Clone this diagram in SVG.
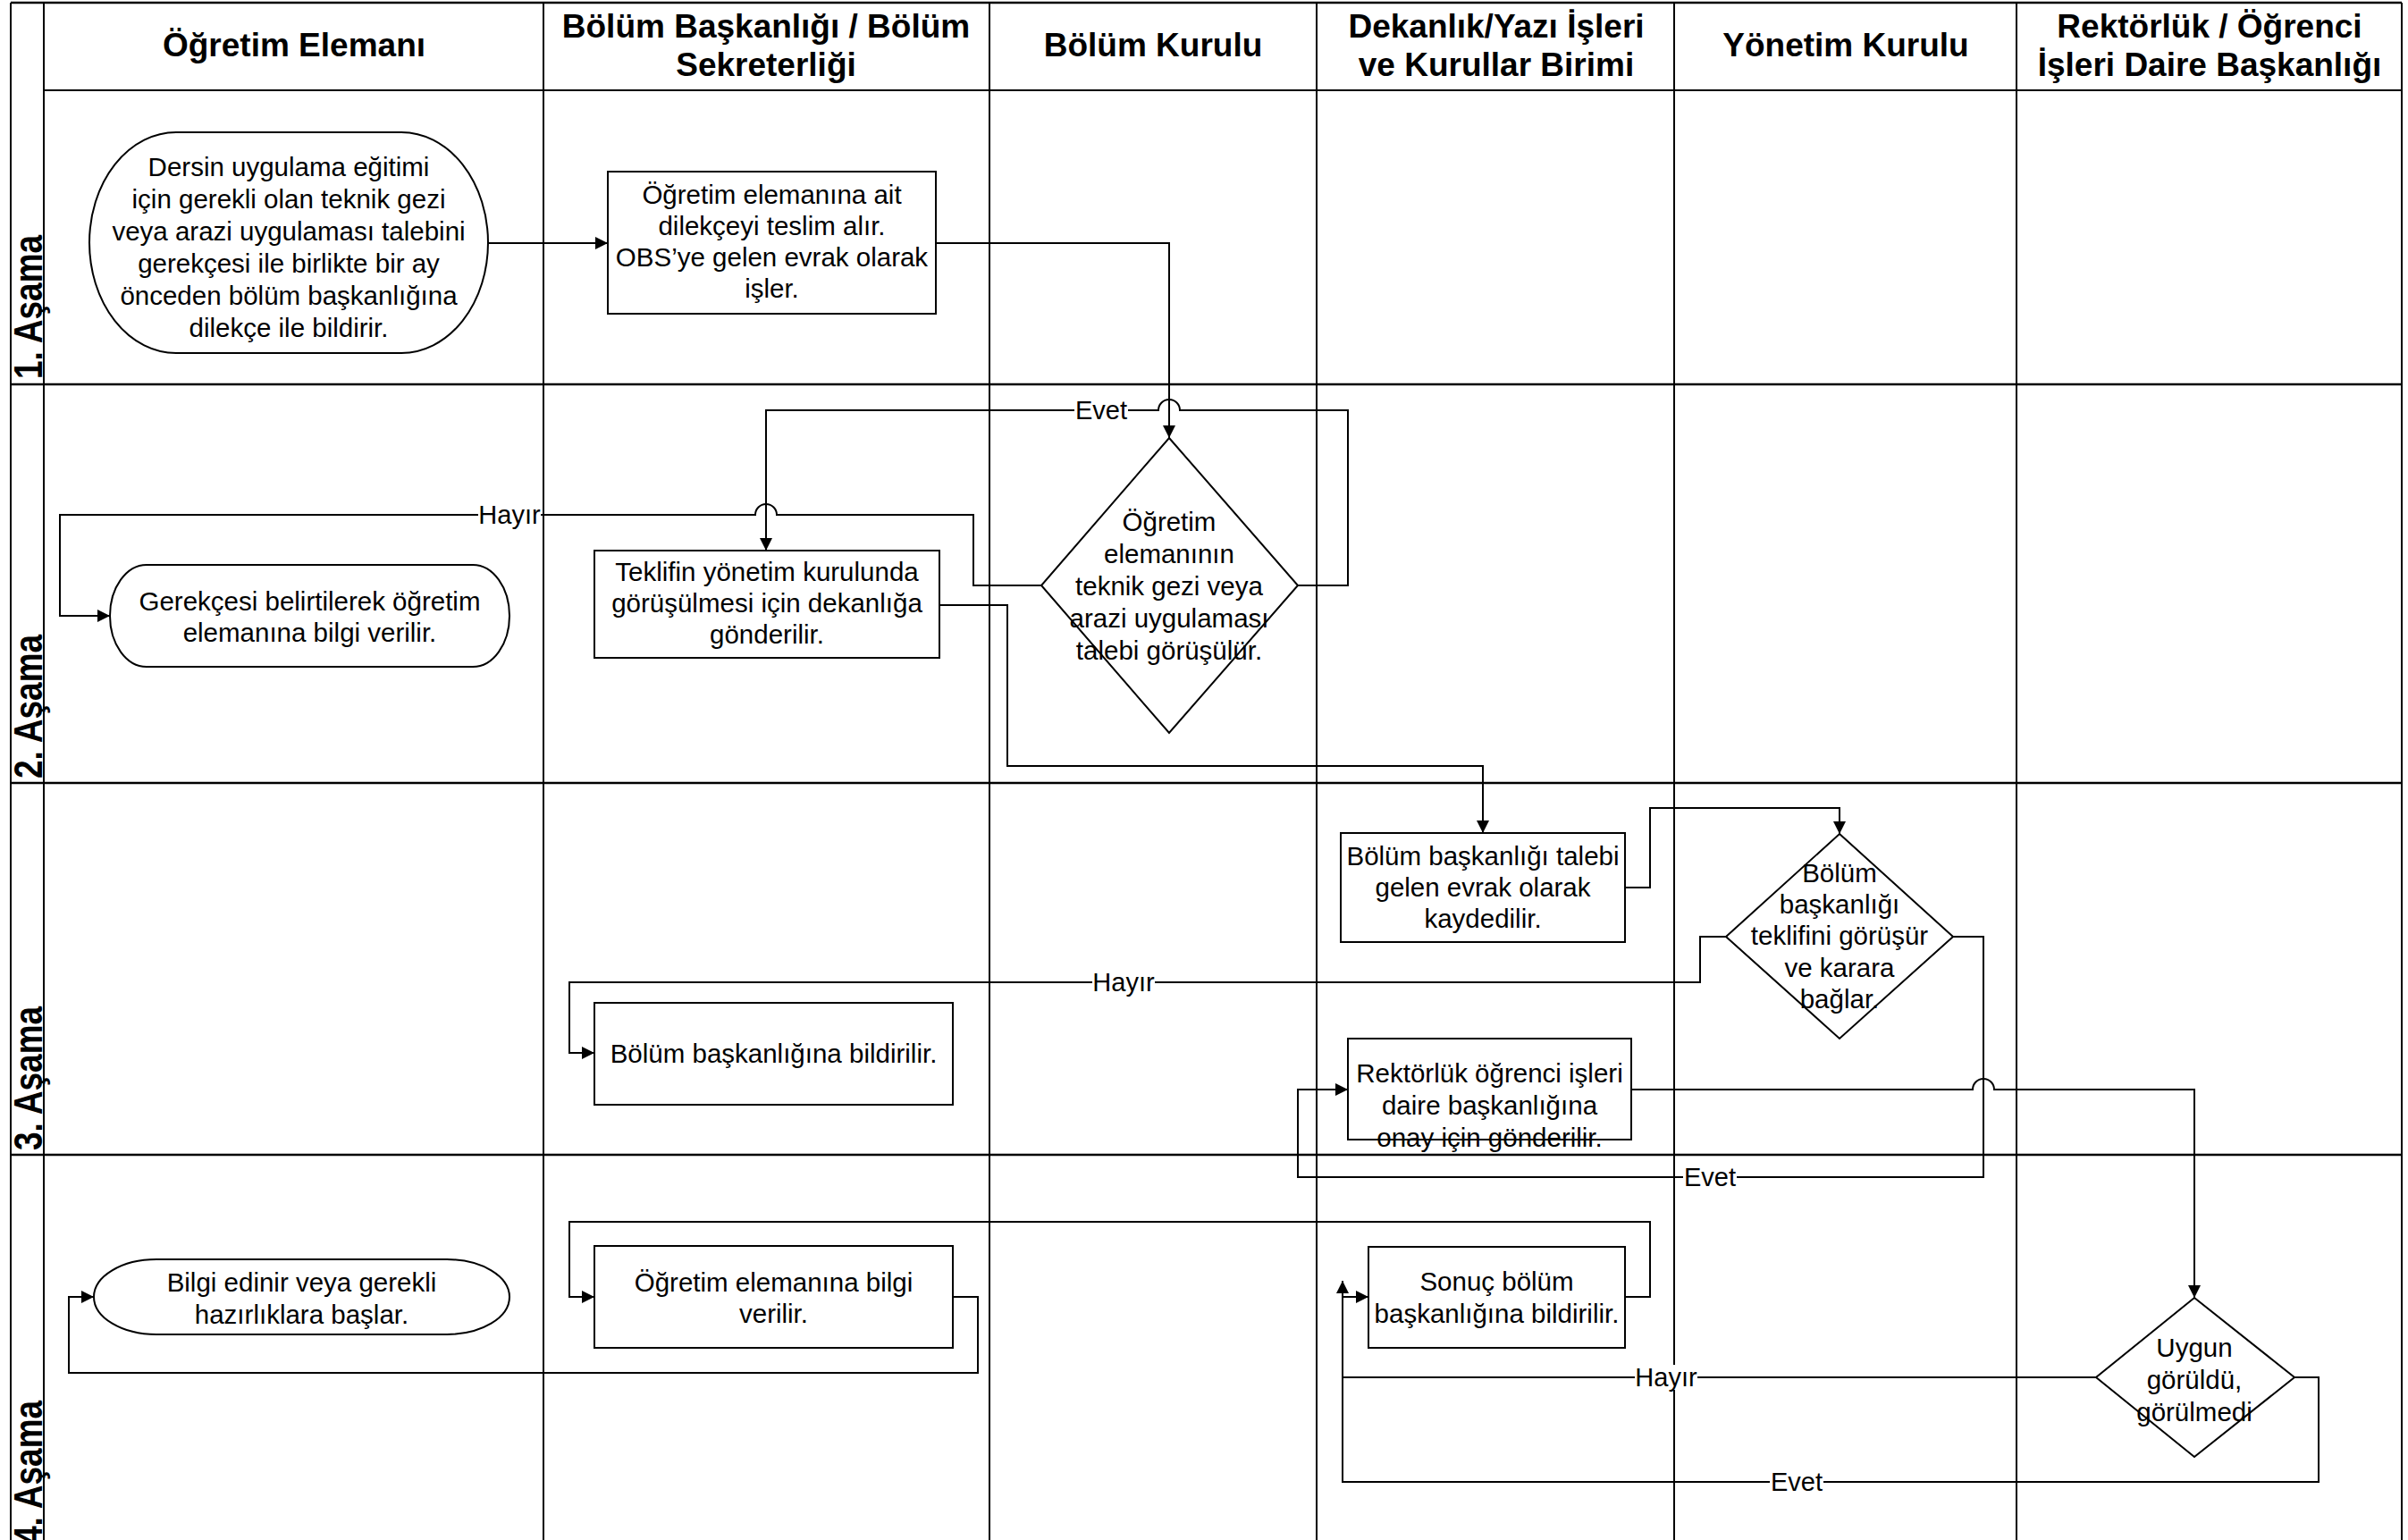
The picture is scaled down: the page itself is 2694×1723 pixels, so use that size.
<svg xmlns="http://www.w3.org/2000/svg" width="2694" height="1723" viewBox="0 0 2694 1723">
<style>
.lane{stroke:#000;stroke-width:2;fill:none}
.row{stroke:#000;stroke-width:2.5;fill:none}
.hd{font-family:"Liberation Sans",Arial,sans-serif;font-weight:bold;font-size:37px;text-anchor:middle;fill:#000}
.st{font-family:"Liberation Sans",Arial,sans-serif;font-weight:bold;font-size:37px;fill:#000}
.nd{fill:#fff;stroke:#000;stroke-width:2}
.tx{font-family:"Liberation Sans",Arial,sans-serif;font-size:29.5px;text-anchor:middle;fill:#000}
.cn{fill:none;stroke:#000;stroke-width:2}
.lb{font-family:"Liberation Sans",Arial,sans-serif;font-size:29px;text-anchor:middle;fill:#000}
.lbg{fill:#fff;stroke:none}
</style>
<defs>
<marker id="ah" markerUnits="userSpaceOnUse" markerWidth="16" markerHeight="16" refX="14" refY="7" orient="auto">
<path d="M0,0 L14,7 L0,14 z" fill="#000"/>
</marker>
</defs>
<rect x="0" y="0" width="2694" height="1723" fill="#fff"/>
<g id="lanes">
<line class="row" x1="12" y1="3" x2="2687" y2="3"/>
<line class="lane" x1="12" y1="3" x2="12" y2="1723"/>
<line class="lane" x1="49" y1="3" x2="49" y2="1723"/>
<line class="lane" x1="608" y1="3" x2="608" y2="1723"/>
<line class="lane" x1="1107" y1="3" x2="1107" y2="1723"/>
<line class="lane" x1="1473" y1="3" x2="1473" y2="1723"/>
<line class="lane" x1="1873" y1="3" x2="1873" y2="1723"/>
<line class="lane" x1="2256" y1="3" x2="2256" y2="1723"/>
<line class="lane" x1="2687" y1="3" x2="2687" y2="1723"/>
<line class="lane" x1="49" y1="101" x2="2687" y2="101"/>
<line class="row" x1="12" y1="430" x2="2687" y2="430"/>
<line class="row" x1="12" y1="876" x2="2687" y2="876"/>
<line class="row" x1="12" y1="1292" x2="2687" y2="1292"/>
<text class="hd" x="329" y="63">Öğretim Elemanı</text>
<text class="hd" x="857" y="42">Bölüm Başkanlığı / Bölüm</text>
<text class="hd" x="857" y="85">Sekreterliği</text>
<text class="hd" x="1290" y="63">Bölüm Kurulu</text>
<text class="hd" x="1674" y="42">Dekanlık/Yazı İşleri</text>
<text class="hd" x="1674" y="85">ve Kurullar Birimi</text>
<text class="hd" x="2065" y="63">Yönetim Kurulu</text>
<text class="hd" x="2472" y="42">Rektörlük / Öğrenci</text>
<text class="hd" x="2472" y="85">İşleri Daire Başkanlığı</text>
<text class="st" transform="translate(47,424) rotate(-90) scale(1,1.22)">1. Aşama</text>
<text class="st" transform="translate(47,871) rotate(-90) scale(1,1.22)">2. Aşama</text>
<text class="st" transform="translate(47,1287) rotate(-90) scale(1,1.22)">3. Aşama</text>
<text class="st" transform="translate(47,1728) rotate(-90) scale(1,1.22)">4. Aşama</text>
</g>
<g id="connectors">
<path class="cn" d="M546,272 L680,272" marker-end="url(#ah)"/>
<path class="cn" d="M1047,272 L1308,272 L1308,490" marker-end="url(#ah)"/>
<path class="cn" d="M1452,655 L1508,655 L1508,459 L1320,459 A12,12 0 0 0 1296,459 L857,459 L857,616" marker-end="url(#ah)"/>
<path class="cn" d="M1165,655 L1089,655 L1089,576 L869,576 A12,12 0 0 0 845,576 L67,576 L67,689 L123,689" marker-end="url(#ah)"/>
<path class="cn" d="M1051,677 L1127,677 L1127,857 L1659,857 L1659,932" marker-end="url(#ah)"/>
<path class="cn" d="M1818,993 L1846,993 L1846,904 L2058,904 L2058,933" marker-end="url(#ah)"/>
<path class="cn" d="M1931,1048 L1902,1048 L1902,1099 L637,1099 L637,1178 L665,1178" marker-end="url(#ah)"/>
<path class="cn" d="M2185,1048 L2219,1048 L2219,1317 L1452,1317 L1452,1219 L1508,1219" marker-end="url(#ah)"/>
<path class="cn" d="M1825,1219 L2207,1219 A12,12 0 0 1 2231,1219 L2455,1219 L2455,1452" marker-end="url(#ah)"/>
<path class="cn" d="M2345,1541 L1502,1541 L1502,1451 L1531,1451" marker-end="url(#ah)"/>
<path class="cn" d="M2567,1541 L2594,1541 L2594,1658 L1502,1658 L1502,1433" marker-end="url(#ah)"/>
<path class="cn" d="M1818,1451 L1846,1451 L1846,1367 L637,1367 L637,1451 L665,1451" marker-end="url(#ah)"/>
<path class="cn" d="M1066,1451 L1094,1451 L1094,1536 L77,1536 L77,1451 L105,1451" marker-end="url(#ah)"/>
<rect class="lbg" x="535" y="562" width="70" height="28"/>
<text class="lb" x="570" y="586">Hayır</text>
<rect class="lbg" x="1202" y="445" width="60" height="28"/>
<text class="lb" x="1232" y="469">Evet</text>
<rect class="lbg" x="1222" y="1085" width="70" height="28"/>
<text class="lb" x="1257" y="1109">Hayır</text>
<rect class="lbg" x="1883" y="1303" width="60" height="28"/>
<text class="lb" x="1913" y="1327">Evet</text>
<rect class="lbg" x="1829" y="1527" width="70" height="28"/>
<text class="lb" x="1864" y="1551">Hayır</text>
<rect class="lbg" x="1980" y="1644" width="60" height="28"/>
<text class="lb" x="2010" y="1668">Evet</text>
</g>
<g id="n1">
<rect class="nd" x="100" y="148" width="446" height="247" rx="97" ry="123.5"/>
<text class="tx" x="323" y="197">Dersin uygulama eğitimi</text>
<text class="tx" x="323" y="233">için gerekli olan teknik gezi</text>
<text class="tx" x="323" y="269">veya arazi uygulaması talebini</text>
<text class="tx" x="323" y="305">gerekçesi ile birlikte bir ay</text>
<text class="tx" x="323" y="341">önceden bölüm başkanlığına</text>
<text class="tx" x="323" y="377">dilekçe ile bildirir.</text>
</g>
<g id="n2">
<rect class="nd" x="680" y="192" width="367" height="159"/>
<text class="tx" x="863.5" y="228">Öğretim elemanına ait</text>
<text class="tx" x="863.5" y="263">dilekçeyi teslim alır.</text>
<text class="tx" x="863.5" y="298">OBS’ye gelen evrak olarak</text>
<text class="tx" x="863.5" y="333">işler.</text>
</g>
<g id="n3">
<rect class="nd" x="123" y="632" width="447" height="114" rx="41" ry="57"/>
<text class="tx" x="346.5" y="683">Gerekçesi belirtilerek öğretim</text>
<text class="tx" x="346.5" y="718">elemanına bilgi verilir.</text>
</g>
<g id="n4">
<rect class="nd" x="665" y="616" width="386" height="120"/>
<text class="tx" x="858" y="650">Teklifin yönetim kurulunda</text>
<text class="tx" x="858" y="685">görüşülmesi için dekanlığa</text>
<text class="tx" x="858" y="720">gönderilir.</text>
</g>
<g id="n5">
<polygon class="nd" points="1308,490 1452,655 1308,820 1165,655"/>
<text class="tx" x="1308" y="594">Öğretim</text>
<text class="tx" x="1308" y="630">elemanının</text>
<text class="tx" x="1308" y="666">teknik gezi veya</text>
<text class="tx" x="1308" y="702">arazi uygulaması</text>
<text class="tx" x="1308" y="738">talebi görüşülür.</text>
</g>
<g id="n6">
<rect class="nd" x="1500" y="932" width="318" height="122"/>
<text class="tx" x="1659" y="968">Bölüm başkanlığı talebi</text>
<text class="tx" x="1659" y="1003">gelen evrak olarak</text>
<text class="tx" x="1659" y="1038">kaydedilir.</text>
</g>
<g id="n7">
<polygon class="nd" points="2058,933 2185,1048 2058,1162 1931,1048"/>
<text class="tx" x="2058" y="987">Bölüm</text>
<text class="tx" x="2058" y="1022">başkanlığı</text>
<text class="tx" x="2058" y="1057">teklifini görüşür</text>
<text class="tx" x="2058" y="1093">ve karara</text>
<text class="tx" x="2058" y="1128">bağlar.</text>
</g>
<g id="n8">
<rect class="nd" x="665" y="1122" width="401" height="114"/>
<text class="tx" x="865.5" y="1189">Bölüm başkanlığına bildirilir.</text>
</g>
<g id="n9">
<rect class="nd" x="1508" y="1162" width="317" height="113"/>
<text class="tx" x="1666.5" y="1211">Rektörlük öğrenci işleri</text>
<text class="tx" x="1666.5" y="1247">daire başkanlığına</text>
<text class="tx" x="1666.5" y="1283">onay için gönderilir.</text>
</g>
<g id="n10">
<rect class="nd" x="105" y="1409" width="465" height="84" rx="70" ry="42"/>
<text class="tx" x="337.5" y="1445">Bilgi edinir veya gerekli</text>
<text class="tx" x="337.5" y="1481">hazırlıklara başlar.</text>
</g>
<g id="n11">
<rect class="nd" x="665" y="1394" width="401" height="114"/>
<text class="tx" x="865.5" y="1445">Öğretim elemanına bilgi</text>
<text class="tx" x="865.5" y="1480">verilir.</text>
</g>
<g id="n12">
<rect class="nd" x="1531" y="1395" width="287" height="113"/>
<text class="tx" x="1674.5" y="1444">Sonuç bölüm</text>
<text class="tx" x="1674.5" y="1480">başkanlığına bildirilir.</text>
</g>
<g id="n13">
<polygon class="nd" points="2455,1452 2567,1541 2455,1630 2345,1541"/>
<text class="tx" x="2455" y="1518">Uygun</text>
<text class="tx" x="2455" y="1554">görüldü,</text>
<text class="tx" x="2455" y="1590">görülmedi</text>
</g>
</svg>
